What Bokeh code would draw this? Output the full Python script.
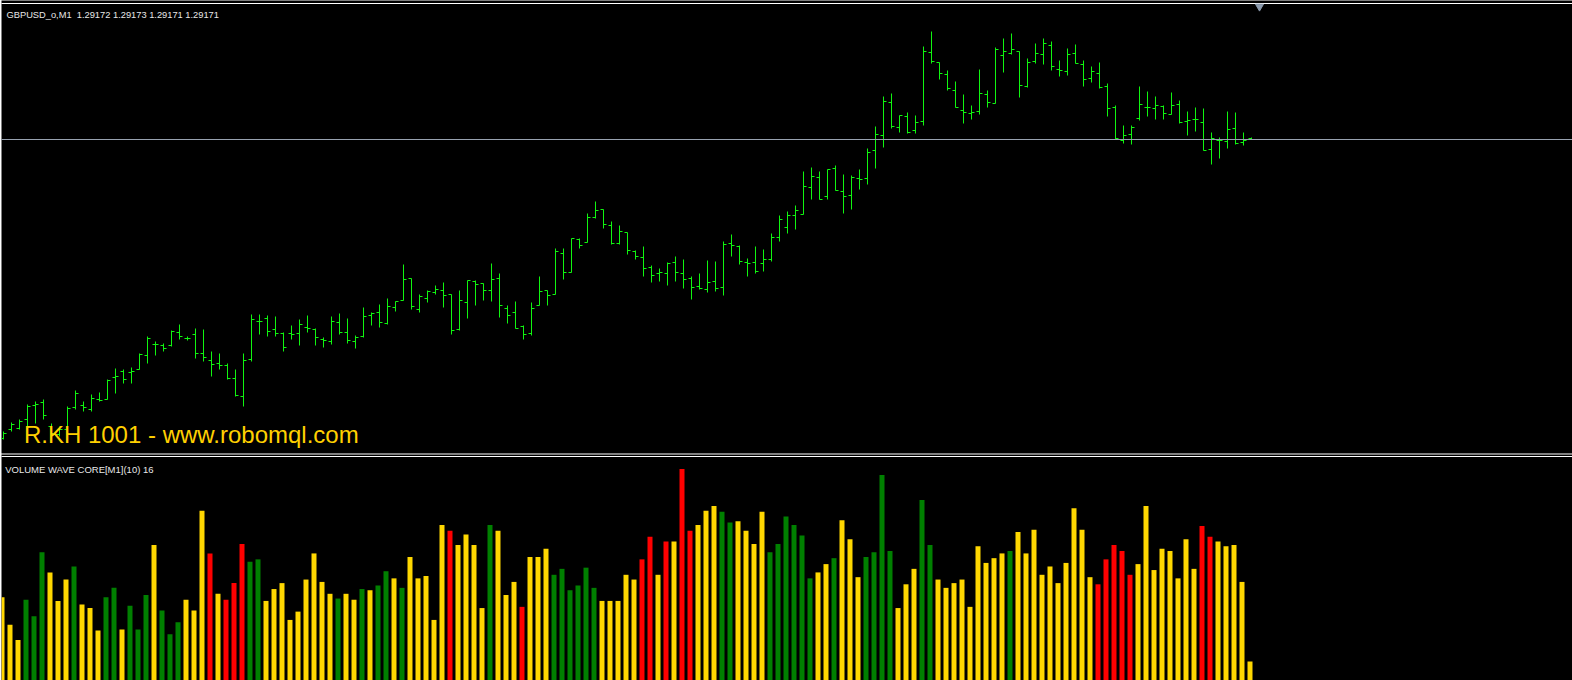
import numpy as np
from bokeh.plotting import figure
from bokeh.models import ColumnDataSource, Label, Range1d
from bokeh.layouts import column
from bokeh.embed import file_html
from bokeh.resources import INLINE

symbol = "GBPUSD_o,M1"
indicator_name = "VOLUME WAVE CORE[M1](10)"
watermark = "R.KH 1001 - www.robomql.com"

open_ = [
    1.28872, 1.28881, 1.28882, 1.28891, 1.28905, 1.28908, 1.28884, 1.28876, 1.28881, 1.28903,
    1.28905, 1.28901, 1.28911, 1.28911, 1.28933, 1.28939, 1.28938, 1.28941, 1.28955, 1.28966,
    1.28965, 1.28965, 1.28978, 1.28972, 1.28976, 1.28957, 1.28950, 1.28947, 1.28945, 1.28932,
    1.28914, 1.28951, 1.28989, 1.28992, 1.28981, 1.28977, 1.28977, 1.28977, 1.28983, 1.28981,
    1.28971, 1.28969, 1.28988, 1.28978, 1.28969, 1.28974, 1.28995, 1.28998, 1.28987, 1.29003,
    1.29010, 1.29032, 1.29001, 1.29012, 1.29018, 1.29020, 1.29016, 1.28981, 1.29008, 1.29029,
    1.29027, 1.29020, 1.29032, 1.29002, 1.28998, 1.28984, 1.28977, 1.29005, 1.29020, 1.29016,
    1.29057, 1.29038, 1.29071, 1.29068, 1.29093, 1.29101, 1.29085, 1.29067, 1.29078, 1.29059,
    1.29053, 1.29043, 1.29037, 1.29037, 1.29048, 1.29037, 1.29032, 1.29024, 1.29021, 1.29029,
    1.29023, 1.29067, 1.29064, 1.29048, 1.29048, 1.29047, 1.29051, 1.29073, 1.29083, 1.29095,
    1.29096, 1.29123, 1.29133, 1.29114, 1.29142, 1.29119, 1.29115, 1.29132, 1.29132, 1.29160,
    1.29175, 1.29208, 1.29183, 1.29194, 1.29180, 1.29189, 1.29258, 1.29248, 1.29236, 1.29220,
    1.29200, 1.29197, 1.29199, 1.29216, 1.29207, 1.29255, 1.29257, 1.29259, 1.29224, 1.29249,
    1.29256, 1.29265, 1.29241, 1.29239, 1.29257, 1.29246, 1.29232, 1.29237, 1.29224, 1.29203,
    1.29170, 1.29176, 1.29192, 1.29203, 1.29202, 1.29204, 1.29196, 1.29206, 1.29189, 1.29191,
    1.29188, 1.29161, 1.29170, 1.29169, 1.29182, 1.29168, 1.29172,
]
high = [
    1.28879, 1.28888, 1.28891, 1.28906, 1.28909, 1.28911, 1.28887, 1.28884, 1.28904, 1.28920,
    1.28909, 1.28916, 1.28918, 1.28931, 1.28942, 1.28941, 1.28943, 1.28957, 1.28974, 1.28969,
    1.28967, 1.28980, 1.28986, 1.28974, 1.28982, 1.28981, 1.28959, 1.28957, 1.28947, 1.28941,
    1.28957, 1.28996, 1.28996, 1.28995, 1.28994, 1.28978, 1.28985, 1.28991, 1.28995, 1.28982,
    1.28973, 1.28994, 1.28997, 1.28992, 1.28975, 1.29003, 1.28998, 1.29006, 1.29012, 1.29009,
    1.29046, 1.29032, 1.29016, 1.29020, 1.29025, 1.29028, 1.29016, 1.29020, 1.29030, 1.29030,
    1.29027, 1.29047, 1.29037, 1.29005, 1.29009, 1.28985, 1.29008, 1.29034, 1.29020, 1.29062,
    1.29062, 1.29072, 1.29072, 1.29097, 1.29109, 1.29101, 1.29089, 1.29085, 1.29078, 1.29060,
    1.29064, 1.29045, 1.29042, 1.29048, 1.29054, 1.29051, 1.29034, 1.29037, 1.29050, 1.29049,
    1.29069, 1.29076, 1.29065, 1.29052, 1.29064, 1.29061, 1.29077, 1.29095, 1.29099, 1.29105,
    1.29139, 1.29143, 1.29139, 1.29141, 1.29145, 1.29136, 1.29135, 1.29141, 1.29162, 1.29184,
    1.29214, 1.29217, 1.29195, 1.29198, 1.29195, 1.29264, 1.29279, 1.29248, 1.29240, 1.29229,
    1.29216, 1.29205, 1.29241, 1.29220, 1.29263, 1.29272, 1.29277, 1.29259, 1.29252, 1.29267,
    1.29272, 1.29269, 1.29250, 1.29262, 1.29266, 1.29250, 1.29244, 1.29248, 1.29227, 1.29205,
    1.29185, 1.29185, 1.29224, 1.29219, 1.29214, 1.29205, 1.29218, 1.29210, 1.29199, 1.29203,
    1.29202, 1.29178, 1.29173, 1.29199, 1.29198, 1.29178, 1.29173,
]
low = [
    1.28871, 1.28879, 1.28881, 1.28881, 1.28887, 1.28891, 1.28874, 1.28874, 1.28879, 1.28901,
    1.28899, 1.28899, 1.28909, 1.28911, 1.28917, 1.28927, 1.28927, 1.28941, 1.28947, 1.28955,
    1.28959, 1.28964, 1.28971, 1.28970, 1.28952, 1.28949, 1.28934, 1.28941, 1.28931, 1.28914,
    1.28904, 1.28949, 1.28976, 1.28974, 1.28974, 1.28959, 1.28971, 1.28965, 1.28978, 1.28965,
    1.28963, 1.28966, 1.28976, 1.28967, 1.28962, 1.28973, 1.28985, 1.28983, 1.28986, 1.28999,
    1.29010, 1.29001, 1.28998, 1.29008, 1.29016, 1.29003, 1.28976, 1.28980, 1.28992, 1.29005,
    1.29010, 1.29009, 1.28993, 1.28987, 1.28982, 1.28971, 1.28975, 1.29005, 1.29005, 1.29016,
    1.29031, 1.29038, 1.29062, 1.29068, 1.29092, 1.29082, 1.29066, 1.29066, 1.29056, 1.29051,
    1.29034, 1.29028, 1.29029, 1.29025, 1.29029, 1.29022, 1.29011, 1.29021, 1.29018, 1.29019,
    1.29015, 1.29054, 1.29046, 1.29034, 1.29037, 1.29039, 1.29049, 1.29069, 1.29077, 1.29081,
    1.29096, 1.29111, 1.29111, 1.29111, 1.29120, 1.29097, 1.29101, 1.29121, 1.29126, 1.29142,
    1.29163, 1.29182, 1.29178, 1.29177, 1.29177, 1.29185, 1.29247, 1.29231, 1.29220, 1.29203,
    1.29187, 1.29191, 1.29196, 1.29203, 1.29207, 1.29238, 1.29256, 1.29213, 1.29223, 1.29247,
    1.29246, 1.29240, 1.29234, 1.29235, 1.29247, 1.29224, 1.29228, 1.29222, 1.29194, 1.29171,
    1.29167, 1.29166, 1.29190, 1.29194, 1.29191, 1.29191, 1.29196, 1.29187, 1.29175, 1.29179,
    1.29160, 1.29146, 1.29152, 1.29162, 1.29166, 1.29165, 1.29171,
]
close = [
    1.28877, 1.28886, 1.28889, 1.28904, 1.28906, 1.28895, 1.28877, 1.28881, 1.28902, 1.28917,
    1.28903, 1.28912, 1.28910, 1.28930, 1.28934, 1.28931, 1.28939, 1.28956, 1.28972, 1.28966,
    1.28962, 1.28979, 1.28974, 1.28972, 1.28957, 1.28953, 1.28946, 1.28945, 1.28932, 1.28915,
    1.28950, 1.28991, 1.28989, 1.28979, 1.28977, 1.28963, 1.28976, 1.28986, 1.28982, 1.28973,
    1.28970, 1.28989, 1.28978, 1.28970, 1.28973, 1.28994, 1.28997, 1.28988, 1.29004, 1.29009,
    1.29031, 1.29004, 1.29014, 1.29019, 1.29021, 1.29015, 1.28980, 1.29010, 1.29030, 1.29026,
    1.29020, 1.29031, 1.29005, 1.28995, 1.28982, 1.28976, 1.29002, 1.29019, 1.29015, 1.29059,
    1.29038, 1.29072, 1.29065, 1.29093, 1.29100, 1.29086, 1.29067, 1.29079, 1.29060, 1.29054,
    1.29042, 1.29035, 1.29038, 1.29047, 1.29038, 1.29031, 1.29023, 1.29022, 1.29028, 1.29022,
    1.29066, 1.29065, 1.29049, 1.29047, 1.29039, 1.29051, 1.29073, 1.29091, 1.29095, 1.29100,
    1.29124, 1.29134, 1.29111, 1.29141, 1.29120, 1.29114, 1.29133, 1.29131, 1.29158, 1.29176,
    1.29209, 1.29184, 1.29195, 1.29178, 1.29188, 1.29259, 1.29249, 1.29237, 1.29222, 1.29203,
    1.29198, 1.29198, 1.29217, 1.29208, 1.29261, 1.29259, 1.29261, 1.29225, 1.29248, 1.29257,
    1.29267, 1.29244, 1.29240, 1.29256, 1.29247, 1.29231, 1.29239, 1.29223, 1.29202, 1.29172,
    1.29175, 1.29183, 1.29206, 1.29203, 1.29205, 1.29197, 1.29205, 1.29188, 1.29190, 1.29191,
    1.29160, 1.29172, 1.29170, 1.29181, 1.29167, 1.29170, 1.29171,
]
volume = [
    70, 47, 34, 68, 54, 108, 91, 67, 85, 96,
    64, 61, 42, 70, 78, 43, 63, 43, 72, 114,
    59, 39, 49, 68, 59, 143, 107, 73, 68, 82,
    115, 100, 102, 67, 77, 82, 51, 58, 85, 107,
    83, 73, 69, 73, 68, 77, 76, 80, 92, 86,
    78, 104, 86, 88, 51, 131, 126, 114, 123, 114,
    61, 131, 126, 72, 83, 62, 104, 104, 111, 89,
    94, 76, 80, 95, 78, 67, 67, 67, 89, 85,
    102, 121, 89, 117, 117, 178, 126, 131, 143, 147,
    142, 133, 134, 126, 115, 142, 108, 115, 138, 131,
    122, 86, 91, 98, 103, 135, 119, 87, 104, 108,
    173, 109, 61, 81, 94, 152, 114, 85, 78, 82,
    85, 62, 113, 99, 103, 107, 109, 125, 107, 127,
    89, 96, 82, 99, 145, 127, 87, 81, 102, 114,
    109, 89, 98, 147, 93, 111, 109, 86, 119, 94,
    130, 121, 117, 113, 114, 83, 16,
]
# Y = neutral (gold), G = rising wave (green), R = falling wave (red)
wave_state = list(
    "YYYGGGYYYG" "YYYGGYGGGY" "GGGYYYRYRR" "RGGYYYYYYY" "YYGYYGYGGY"
    "GYYYYYRYYY" "YGYYYRYYYG" "GGGGGYYYYY" "RRYRYRRYYY" "GGYYYYGGGG"
    "GGYYGYYYGG" "GGYYYGGYYY" "YYYYYYGYYY" "YYYYYYYRRR" "RRYYYYYYYY"
    "RRYYYYY"
)

n = len(close)
assert len(open_) == n and len(high) == n and len(low) == n
assert len(volume) == n and len(wave_state) == n

W = 1572
H_PRICE = 454
H_VOL = 226
PRICE_X_RANGE = (-0.25, 196.125)
PRICE_RANGE = (1.28857, 1.29310)
VOL_X_RANGE = (-0.0625, 196.3125)
VOL_RANGE = (0, 190.29)

BG = "#000000"
FRAME = "#FFFFFF"
BAR_COLOR = "#10F510"
BID_COLOR = "#98A2B0"
TEXT_COLOR = "#E8E8E8"
WM_COLOR = "#FFD000"
STATE_COLORS = {"Y": "#FFD700", "G": "#008000", "R": "#FF0000"}
TICK = 0.375
FONT = "Liberation Sans"


def make_fig(height, xr, yr, left=0, top=0, bottom=0):
    f = figure(width=W, height=height,
               x_range=Range1d(*xr), y_range=Range1d(*yr),
               output_backend="svg", toolbar_location=None,
               x_axis_location=None, y_axis_location=None,
               background_fill_color=BG, border_fill_color=FRAME,
               min_border=0, min_border_left=left, min_border_right=0,
               min_border_top=top, min_border_bottom=bottom)
    f.xgrid.visible = False
    f.ygrid.visible = False
    f.outline_line_color = None
    return f


def hline(f, xr, y, color):
    """Full-width horizontal line drawn as a glyph (pixel-aligned like the bars)."""
    f.segment(x0=[xr[0] - 1], x1=[xr[1] + 1], y0=[y], y1=[y],
              line_color=color, line_width=1)


x = np.arange(n)

# ---- price window (OHLC bars) ----
p = make_fig(H_PRICE, PRICE_X_RANGE, PRICE_RANGE, left=1, bottom=1)
hline(p, PRICE_X_RANGE, 1.29307, FRAME)          # window top frame line

src = ColumnDataSource(dict(x=x, xl=x - TICK, xr=x + TICK,
                            o=open_, h=high, l=low, c=close))
p.segment(x0="x", y0="l", x1="x", y1="h", source=src, line_color=BAR_COLOR, line_width=1)
p.segment(x0="xl", y0="o", x1="x", y1="o", source=src, line_color=BAR_COLOR, line_width=1)
p.segment(x0="x", y0="c", x1="xr", y1="c", source=src, line_color=BAR_COLOR, line_width=1)

# bid line at the last close
hline(p, PRICE_X_RANGE, close[-1], BID_COLOR)

# chart-shift marker at the top, one bar to the right of the last bar
p.scatter(x=[n], y=[1.29304], marker="inverted_triangle",
          size=8, fill_color="#8C9BAE", line_color="#8C9BAE")

header = (f"{symbol}\u00a0\u00a0{open_[-1]:.5f} {high[-1]:.5f} "
          f"{low[-1]:.5f} {close[-1]:.5f}")
p.add_layout(Label(x=0.375, y=1.29296, text=header, text_color=TEXT_COLOR,
                   text_font=FONT, text_font_size="9.3px", text_baseline="alphabetic"))
p.add_layout(Label(x=2.55, y=1.28876, text=watermark, text_color=WM_COLOR,
                   text_font=FONT, text_font_size="24px", text_baseline="alphabetic"))

# ---- indicator window (volume histogram) ----
v = make_fig(H_VOL, VOL_X_RANGE, VOL_RANGE, left=1)
hline(v, VOL_X_RANGE, 188.6, FRAME)              # window top frame line
vsrc = ColumnDataSource(dict(x=x, top=volume,
                             color=[STATE_COLORS[s] for s in wave_state]))
v.vbar(x="x", top="top", bottom=0, width=0.625, source=vsrc,
       fill_color="color", line_color=None)
v.add_layout(Label(x=0.4, y=178, text=f"{indicator_name} {volume[-1]}",
                   text_color=TEXT_COLOR, text_font=FONT, text_font_size="9.5px",
                   text_baseline="alphabetic"))

layout = column(p, v, spacing=0)
open("out.html", "w").write(file_html(layout, INLINE))
